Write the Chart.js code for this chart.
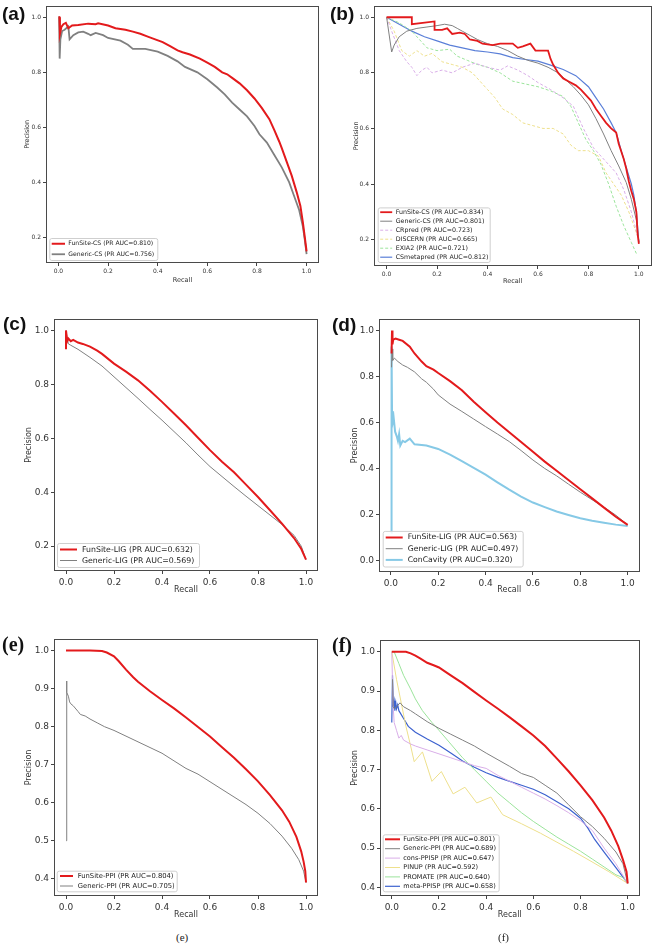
<!DOCTYPE html>
<html><head><meta charset="utf-8">
<script src="https://cdn.jsdelivr.net/npm/chart.js@4.4.0/dist/chart.umd.min.js"></script>
<style>
html,body{margin:0;padding:0;background:#fff;}
#page{position:relative;width:652px;height:948px;overflow:hidden;background:#fff;}
canvas{position:absolute;}
.lab{position:absolute;font-family:"Liberation Sans",Arial,sans-serif;font-weight:bold;font-size:19px;color:#111;line-height:1;z-index:2;}
.labs{position:absolute;font-family:"Liberation Serif","DejaVu Serif",serif;font-weight:bold;font-size:20px;color:#111;line-height:1;z-index:2;}
.cap{position:absolute;font-family:"Liberation Serif","DejaVu Serif",serif;font-size:11px;color:#222;line-height:1;z-index:2;}
</style></head>
<body><div id="page">
<canvas id="ca" width="330" height="300" style="left:0px;top:0px"></canvas>
<canvas id="cb" width="332" height="300" style="left:320px;top:0px"></canvas>
<canvas id="cc" width="330" height="320" style="left:0px;top:310px"></canvas>
<canvas id="cd" width="332" height="320" style="left:320px;top:310px"></canvas>
<canvas id="ce" width="330" height="290" style="left:0px;top:630px"></canvas>
<canvas id="cf" width="332" height="290" style="left:320px;top:630px"></canvas>
<div class="lab" style="left:2px;top:4px">(a)</div>
<div class="lab" style="left:330px;top:4px">(b)</div>
<div class="lab" style="left:3px;top:314px">(c)</div>
<div class="lab" style="left:332px;top:315px">(d)</div>
<div class="labs" style="left:2px;top:634px">(e)</div>
<div class="labs" style="left:332px;top:635px">(f)</div>
<div class="cap" style="left:176px;top:932px">(e)</div>
<div class="cap" style="left:498px;top:932px">(f)</div>
</div>
<script>
// ---------- tick labels ----------
const recallTicks = [0.0, 0.2, 0.4, 0.6, 0.8, 1.0];
const precTicksA = [0.2, 0.4, 0.6, 0.8, 1.0];
const precTicksD = [0.0, 0.2, 0.4, 0.6, 0.8, 1.0];
const precTicksE = [0.4, 0.5, 0.6, 0.7, 0.8, 0.9, 1.0];

// ---------- (a) ----------
const aFunR = [0, 0.004, 0.006, 0.012, 0.02, 0.03, 0.04, 0.055, 0.08, 0.12, 0.15, 0.16, 0.2, 0.23, 0.27, 0.3, 0.33, 0.36, 0.39, 0.42, 0.45, 0.48, 0.5, 0.53, 0.57, 0.6, 0.63, 0.66, 0.68, 0.7, 0.73, 0.76, 0.79, 0.82, 0.85, 0.87, 0.89, 0.9, 0.92, 0.94, 0.96, 0.975, 0.985, 0.993, 1.0];
const aFunP = [1.0, 1.0, 0.94, 0.965, 0.975, 0.98, 0.96, 0.97, 0.972, 0.977, 0.975, 0.978, 0.97, 0.96, 0.955, 0.948, 0.94, 0.93, 0.92, 0.91, 0.895, 0.88, 0.873, 0.865, 0.85, 0.835, 0.82, 0.8, 0.793, 0.78, 0.76, 0.735, 0.705, 0.67, 0.63, 0.59, 0.548, 0.525, 0.475, 0.425, 0.365, 0.315, 0.255, 0.2, 0.15];
const aGenR = [0, 0.003, 0.005, 0.008, 0.015, 0.025, 0.04, 0.045, 0.06, 0.08, 0.1, 0.12, 0.13, 0.15, 0.18, 0.2, 0.25, 0.28, 0.3, 0.35, 0.4, 0.44, 0.48, 0.51, 0.56, 0.6, 0.64, 0.67, 0.7, 0.73, 0.76, 0.79, 0.81, 0.84, 0.87, 0.9, 0.93, 0.95, 0.97, 0.985, 0.993, 1.0];
const aGenP = [1.0, 1.0, 0.85, 0.92, 0.95, 0.955, 0.967, 0.92, 0.935, 0.945, 0.948, 0.94, 0.935, 0.943, 0.935, 0.925, 0.915, 0.9, 0.885, 0.885, 0.875, 0.86, 0.84, 0.82, 0.8, 0.775, 0.745, 0.72, 0.69, 0.665, 0.64, 0.605, 0.575, 0.545, 0.5, 0.455, 0.4, 0.35, 0.3, 0.24, 0.19, 0.14];

// ---------- (b) ----------
const bFunR = [0, 0.1, 0.1, 0.19, 0.19, 0.22, 0.24, 0.26, 0.29, 0.31, 0.33, 0.36, 0.38, 0.42, 0.45, 0.5, 0.52, 0.54, 0.57, 0.59, 0.64, 0.65, 0.66, 0.68, 0.7, 0.72, 0.75, 0.77, 0.79, 0.81, 0.83, 0.85, 0.87, 0.89, 0.91, 0.92, 0.94, 0.95, 0.96, 0.97, 0.98, 0.99, 0.995, 1.0];
const bFunP = [1.0, 1.0, 0.975, 0.985, 0.955, 0.955, 0.96, 0.94, 0.945, 0.94, 0.92, 0.915, 0.905, 0.9, 0.905, 0.905, 0.89, 0.895, 0.905, 0.88, 0.88, 0.85, 0.83, 0.8, 0.78, 0.77, 0.755, 0.74, 0.72, 0.7, 0.67, 0.645, 0.62, 0.6, 0.585, 0.545, 0.49, 0.455, 0.41, 0.375, 0.345, 0.3, 0.22, 0.185];
const bGenR = [0, 0.02, 0.03, 0.05, 0.08, 0.12, 0.16, 0.2, 0.23, 0.26, 0.28, 0.3, 0.33, 0.36, 0.4, 0.44, 0.48, 0.52, 0.56, 0.6, 0.64, 0.68, 0.71, 0.74, 0.77, 0.8, 0.83, 0.86, 0.89, 0.92, 0.95, 0.97, 0.99, 1.0];
const bGenP = [1.0, 0.875, 0.9, 0.93, 0.95, 0.96, 0.965, 0.97, 0.975, 0.97, 0.96, 0.95, 0.935, 0.92, 0.905, 0.895, 0.88, 0.86, 0.845, 0.835, 0.82, 0.8, 0.775, 0.75, 0.72, 0.685, 0.635, 0.58, 0.52, 0.465, 0.405, 0.345, 0.27, 0.19];
const bCrpR = [0, 0.02, 0.05, 0.08, 0.1, 0.12, 0.14, 0.16, 0.18, 0.22, 0.26, 0.3, 0.35, 0.4, 0.45, 0.48, 0.52, 0.56, 0.6, 0.65, 0.7, 0.74, 0.78, 0.82, 0.85, 0.88, 0.91, 0.94, 0.97, 0.99, 1.0];
const bCrpP = [1.0, 0.95, 0.88, 0.84, 0.82, 0.79, 0.81, 0.82, 0.8, 0.81, 0.8, 0.82, 0.835, 0.82, 0.81, 0.825, 0.81, 0.79, 0.765, 0.74, 0.71, 0.68, 0.6, 0.53, 0.5, 0.47, 0.44, 0.38, 0.3, 0.23, 0.19];
const bDisR = [0, 0.03, 0.06, 0.09, 0.12, 0.15, 0.18, 0.22, 0.26, 0.3, 0.34, 0.37, 0.4, 0.43, 0.46, 0.5, 0.54, 0.58, 0.62, 0.66, 0.7, 0.73, 0.76, 0.8, 0.84, 0.87, 0.9, 0.93, 0.96, 0.98, 1.0];
const bDisP = [1.0, 0.95, 0.88, 0.86, 0.88, 0.86, 0.87, 0.84, 0.83, 0.82, 0.8, 0.77, 0.74, 0.71, 0.67, 0.65, 0.62, 0.61, 0.6, 0.6, 0.58, 0.54, 0.52, 0.52, 0.5, 0.44, 0.4, 0.36, 0.3, 0.25, 0.2];
const bExiR = [0, 0.05, 0.1, 0.13, 0.16, 0.2, 0.25, 0.28, 0.32, 0.36, 0.4, 0.45, 0.5, 0.55, 0.6, 0.65, 0.7, 0.73, 0.76, 0.79, 0.82, 0.85, 0.88, 0.91, 0.94, 0.97, 0.99];
const bExiP = [1.0, 0.98, 0.95, 0.92, 0.89, 0.88, 0.885, 0.86, 0.845, 0.83, 0.82, 0.8, 0.77, 0.76, 0.75, 0.735, 0.715, 0.68, 0.62, 0.56, 0.52, 0.47, 0.4, 0.32, 0.25, 0.19, 0.15];
const bCsmR = [0, 0.05, 0.1, 0.15, 0.2, 0.25, 0.3, 0.35, 0.4, 0.45, 0.5, 0.55, 0.6, 0.65, 0.7, 0.75, 0.8, 0.83, 0.86, 0.89, 0.91, 0.93, 0.95, 0.97, 0.98, 0.99, 1.0];
const bCsmP = [1.0, 0.975, 0.95, 0.93, 0.915, 0.9, 0.89, 0.88, 0.875, 0.868, 0.855, 0.848, 0.842, 0.828, 0.812, 0.79, 0.75, 0.71, 0.67, 0.62, 0.585, 0.52, 0.46, 0.4, 0.36, 0.3, 0.19];

// ---------- (c) ----------
const cFunR = [0, 0, 0.005, 0.01, 0.02, 0.03, 0.05, 0.07, 0.1, 0.13, 0.15, 0.2, 0.25, 0.3, 0.35, 0.4, 0.45, 0.5, 0.55, 0.6, 0.65, 0.7, 0.75, 0.8, 0.85, 0.9, 0.95, 0.98, 1.0];
const cFunP = [0.93, 1.0, 0.96, 0.97, 0.96, 0.965, 0.955, 0.95, 0.94, 0.925, 0.913, 0.877, 0.847, 0.815, 0.776, 0.735, 0.692, 0.648, 0.602, 0.556, 0.513, 0.474, 0.428, 0.382, 0.333, 0.283, 0.23, 0.19, 0.15];
const cGenR = [0, 0.005, 0.01, 0.02, 0.05, 0.1, 0.15, 0.2, 0.25, 0.3, 0.35, 0.4, 0.45, 0.5, 0.55, 0.6, 0.65, 0.7, 0.75, 0.8, 0.85, 0.9, 0.95, 0.98, 1.0];
const cGenP = [1.0, 0.97, 0.95, 0.945, 0.93, 0.9, 0.868, 0.828, 0.788, 0.748, 0.707, 0.667, 0.625, 0.583, 0.538, 0.495, 0.458, 0.421, 0.385, 0.35, 0.315, 0.28, 0.24, 0.2, 0.15];

// ---------- (d) ----------
const dFunR = [0.003, 0.005, 0.007, 0.01, 0.02, 0.035, 0.05, 0.08, 0.1, 0.13, 0.15, 0.18, 0.2, 0.25, 0.3, 0.35, 0.4, 0.45, 0.5, 0.55, 0.6, 0.65, 0.7, 0.75, 0.8, 0.85, 0.9, 0.95, 1.0];
const dFunP = [0.9, 1.0, 0.94, 0.96, 0.965, 0.96, 0.955, 0.93, 0.9, 0.865, 0.845, 0.83, 0.815, 0.78, 0.74, 0.69, 0.645, 0.6, 0.558, 0.515, 0.473, 0.43, 0.39, 0.35, 0.31, 0.27, 0.23, 0.19, 0.155];
const dGenR = [0.003, 0.005, 0.008, 0.015, 0.03, 0.05, 0.07, 0.1, 0.13, 0.15, 0.18, 0.2, 0.25, 0.3, 0.35, 0.4, 0.45, 0.5, 0.55, 0.6, 0.65, 0.7, 0.75, 0.8, 0.85, 0.9, 0.95, 1.0];
const dGenP = [0.84, 0.92, 0.87, 0.88, 0.865, 0.85, 0.84, 0.82, 0.79, 0.775, 0.745, 0.72, 0.68, 0.648, 0.615, 0.582, 0.55, 0.517, 0.478, 0.437, 0.4, 0.368, 0.332, 0.297, 0.264, 0.232, 0.197, 0.155];
const dConR = [0.002, 0.003, 0.005, 0.008, 0.012, 0.018, 0.025, 0.03, 0.035, 0.04, 0.05, 0.06, 0.08, 0.1, 0.15, 0.2, 0.25, 0.3, 0.35, 0.4, 0.45, 0.5, 0.55, 0.6, 0.65, 0.7, 0.75, 0.8, 0.85, 0.9, 0.95, 1.0];
const dConP = [0.12, 0.93, 0.65, 0.6, 0.62, 0.56, 0.54, 0.52, 0.55, 0.5, 0.52, 0.515, 0.53, 0.505, 0.5, 0.485, 0.46, 0.432, 0.403, 0.373, 0.34, 0.308, 0.278, 0.252, 0.232, 0.213, 0.198, 0.184, 0.173, 0.164, 0.156, 0.15];

// ---------- (e) ----------
const eFunR = [0, 0.05, 0.1, 0.15, 0.17, 0.2, 0.22, 0.25, 0.28, 0.3, 0.35, 0.4, 0.45, 0.5, 0.55, 0.6, 0.65, 0.7, 0.75, 0.8, 0.85, 0.9, 0.93, 0.96, 0.98, 0.99, 0.997, 1.0];
const eFunP = [1.0, 1.0, 1.0, 0.999, 0.995, 0.985, 0.972, 0.95, 0.93, 0.918, 0.893, 0.87, 0.848, 0.824, 0.799, 0.774, 0.746, 0.718, 0.688, 0.656, 0.62, 0.58, 0.55, 0.51, 0.472, 0.445, 0.42, 0.39];
const eGenR = [0, 0.002, 0.004, 0.01, 0.015, 0.02, 0.03, 0.05, 0.06, 0.08, 0.1, 0.13, 0.16, 0.2, 0.25, 0.3, 0.35, 0.4, 0.45, 0.5, 0.55, 0.6, 0.65, 0.7, 0.75, 0.8, 0.85, 0.9, 0.94, 0.97, 0.99, 1.0];
const eGenP = [0.5, 0.92, 0.89, 0.88, 0.865, 0.86, 0.855, 0.84, 0.832, 0.828, 0.82, 0.81, 0.8, 0.79, 0.775, 0.76, 0.745, 0.73, 0.71, 0.69, 0.675, 0.655, 0.635, 0.615, 0.595, 0.572, 0.545, 0.512, 0.48, 0.45, 0.42, 0.39];

// ---------- (f) ----------
const fFunR = [0, 0.06, 0.08, 0.1, 0.12, 0.15, 0.18, 0.2, 0.22, 0.25, 0.3, 0.35, 0.4, 0.45, 0.5, 0.55, 0.6, 0.65, 0.7, 0.75, 0.8, 0.85, 0.9, 0.93, 0.96, 0.98, 0.995, 1.0];
const fFunP = [1.0, 1.0, 0.996, 0.99, 0.983, 0.972, 0.965, 0.96, 0.952, 0.94, 0.92, 0.898, 0.876, 0.855, 0.833, 0.81, 0.787, 0.76, 0.728, 0.695, 0.66, 0.622, 0.578, 0.545, 0.505, 0.47, 0.44, 0.41];
const fGenR = [0.003, 0.006, 0.01, 0.02, 0.035, 0.05, 0.08, 0.1, 0.15, 0.2, 0.25, 0.3, 0.35, 0.4, 0.45, 0.5, 0.55, 0.6, 0.65, 0.7, 0.75, 0.8, 0.85, 0.9, 0.95, 0.98, 1.0];
const fGenP = [0.93, 0.86, 0.855, 0.86, 0.87, 0.86, 0.85, 0.842, 0.822, 0.805, 0.79, 0.775, 0.76, 0.742, 0.725, 0.708, 0.69, 0.68, 0.66, 0.64, 0.61, 0.58, 0.555, 0.525, 0.49, 0.46, 0.41];
const fConR = [0, 0.005, 0.01, 0.02, 0.03, 0.04, 0.05, 0.08, 0.1, 0.15, 0.2, 0.25, 0.3, 0.35, 0.4, 0.45, 0.5, 0.55, 0.6, 0.65, 0.7, 0.75, 0.8, 0.85, 0.9, 0.95, 1.0];
const fConP = [1.0, 0.87, 0.82, 0.8, 0.78, 0.787, 0.775, 0.765, 0.76, 0.75, 0.74, 0.73, 0.72, 0.71, 0.703, 0.685, 0.67, 0.655, 0.64, 0.625, 0.608, 0.59, 0.57, 0.545, 0.5, 0.46, 0.41];
const fPinR = [0, 0.02, 0.04, 0.06, 0.08, 0.095, 0.13, 0.17, 0.21, 0.26, 0.31, 0.36, 0.42, 0.47, 0.55, 0.63, 0.7, 0.77, 0.84, 0.92, 1.0];
const fPinP = [1.0, 0.93, 0.87, 0.81, 0.76, 0.72, 0.745, 0.67, 0.695, 0.638, 0.655, 0.615, 0.63, 0.585, 0.562, 0.538, 0.515, 0.492, 0.468, 0.44, 0.41];
const fProR = [0, 0.01, 0.03, 0.05, 0.08, 0.1, 0.13, 0.17, 0.2, 0.25, 0.3, 0.35, 0.4, 0.45, 0.5, 0.55, 0.6, 0.65, 0.7, 0.75, 0.8, 0.85, 0.9, 0.95, 0.98, 1.0];
const fProP = [1.0, 1.0, 0.97, 0.94, 0.905, 0.88, 0.85, 0.82, 0.8, 0.765, 0.73, 0.7, 0.67, 0.64, 0.615, 0.59, 0.568, 0.548, 0.528, 0.51, 0.492, 0.472, 0.452, 0.432, 0.425, 0.41];
const fMetR = [0, 0.003, 0.006, 0.01, 0.013, 0.017, 0.02, 0.025, 0.03, 0.05, 0.07, 0.1, 0.15, 0.2, 0.25, 0.3, 0.35, 0.4, 0.45, 0.5, 0.55, 0.6, 0.65, 0.7, 0.75, 0.8, 0.83, 0.86, 0.9, 0.95, 1.0];
const fMetP = [0.82, 0.94, 0.86, 0.875, 0.85, 0.87, 0.855, 0.865, 0.85, 0.83, 0.81, 0.795, 0.778, 0.762, 0.742, 0.722, 0.706, 0.692, 0.68, 0.67, 0.66, 0.65, 0.636, 0.618, 0.6, 0.576, 0.552, 0.522, 0.49, 0.45, 0.41];

// ---------- colours ----------
const RED = '#e31a1c', GRAY = '#808080', BLUE_B = '#5a7fd8', BLUE_F = '#3d62cf',
      LAV = '#d9aee8', YEL = '#eee08c', GRN = '#9be49b', CYAN = '#86c9e6';

function pts(xs, ys) { return xs.map((x, i) => ({ x: x, y: ys[i] })); }

const framePlugin = {
  id: 'frame',
  afterDatasetsDraw(chart) {
    const a = chart.chartArea, c = chart.ctx;
    c.save();
    c.strokeStyle = '#4a4a4a'; c.lineWidth = 1;
    const l = Math.round(a.left) + 0.5, t = Math.round(a.top) + 0.5;
    const r = Math.round(a.right) - 0.5, b = Math.round(a.bottom) - 0.5;
    c.strokeRect(l, t, r - l, b - t);
    c.restore();
  }
};

const boxLegend = {
  id: 'boxLegend',
  afterDraw(chart, args, o) {
    if (!o || !o.w) return;
    const a = chart.chartArea, c = chart.ctx;
    const ds = chart.data.datasets;
    const h = ds.length * o.rowH + 2 * o.padY;
    const x0 = a.left + o.dx, y1 = a.bottom - o.dy, y0 = y1 - h;
    c.save();
    c.fillStyle = 'rgba(255,255,255,0.85)';
    c.strokeStyle = '#cfcfcf'; c.lineWidth = 1;
    c.beginPath();
    if (c.roundRect) c.roundRect(x0 + 0.5, y0 + 0.5, o.w, h, 2); else c.rect(x0 + 0.5, y0 + 0.5, o.w, h);
    c.fill(); c.stroke();
    c.font = o.font + 'px "DejaVu Sans", sans-serif';
    c.textBaseline = 'middle';
    c.fillStyle = '#222';
    ds.forEach((d, i) => {
      const yy = y0 + o.padY + o.rowH * (i + 0.5);
      c.strokeStyle = d.borderColor; c.lineWidth = d.borderWidth;
      c.setLineDash(d.borderDash || []);
      c.beginPath(); c.moveTo(x0 + o.lineX, yy); c.lineTo(x0 + o.lineX + o.lineLen, yy); c.stroke();
      c.setLineDash([]);
      c.fillText(d.label, x0 + o.textX, yy);
    });
    c.restore();
  }
};

function makePanel(id, s) {
  const fontTick = { family: 'DejaVu Sans', size: s.tickFont };
  const fontLab = { family: 'DejaVu Sans', size: s.labFont };
  new Chart(document.getElementById(id), {
    type: 'line',
    data: {
      datasets: s.series.map(q => ({
        label: q.label, data: pts(q.r, q.p), borderColor: q.color, borderWidth: q.w,
        borderDash: q.dash || [], pointRadius: 0, fill: false, tension: 0, spanGaps: true
      }))
    },
    options: {
      responsive: false, animation: false, devicePixelRatio: 1,
      layout: { padding: { top: s.padTop, right: s.padRight, left: 0, bottom: 0 } },
      plugins: { legend: { display: false }, tooltip: { enabled: false }, boxLegend: s.legend },
      scales: {
        x: {
          type: 'linear', min: -0.05, max: 1.05,
          afterBuildTicks: sc => { sc.ticks = recallTicks.map(v => ({ value: v })); },
          afterFit: sc => { sc.height = s.xH; },
          ticks: { font: fontTick, color: '#333', padding: s.xTickPad, maxRotation: 0, callback: v => v.toFixed(1) },
          grid: { drawOnChartArea: false, drawTicks: true, tickLength: 3, color: '#444' },
          border: { display: false },
          title: { display: true, text: 'Recall', font: fontLab, color: '#333', padding: { top: 0, bottom: s.xTitlePad } }
        },
        y: {
          type: 'linear', min: s.yMin, max: s.yMax,
          afterBuildTicks: sc => { sc.ticks = s.yTicks.map(v => ({ value: v })); },
          afterFit: sc => { sc.width = s.yW; },
          ticks: { font: fontTick, color: '#333', padding: 2, callback: v => v.toFixed(1) },
          grid: { drawOnChartArea: false, drawTicks: true, tickLength: 3, color: '#444' },
          border: { display: false },
          title: { display: true, text: 'Precision', font: fontLab, color: '#333', padding: { top: s.yTitlePad, bottom: 0 } }
        }
      }
    },
    plugins: [framePlugin, boxLegend]
  });
}

makePanel('ca', {
  yW: 46, padTop: 5, padRight: 11, xH: 37, yMin: 0.1075, yMax: 1.0425, yTicks: precTicksA,
  tickFont: 6, labFont: 6.5, xTickPad: 2, xTitlePad: 16, yTitlePad: 23,
  legend: { dx: 3.3, dy: 3, w: 108, rowH: 10.5, padY: 0.5, lineX: 2.4, lineLen: 13.3, textX: 19, font: 6.1 },
  series: [
    { label: 'FunSite-CS (PR AUC=0.810)', r: aFunR, p: aFunP, color: RED, w: 2 },
    { label: 'Generic-CS (PR AUC=0.756)', r: aGenR, p: aGenP, color: GRAY, w: 1.8 }
  ]
});
makePanel('cb', {
  yW: 54, padTop: 5, padRight: 0.5, xH: 34, yMin: 0.105, yMax: 1.042, yTicks: precTicksA,
  tickFont: 6, labFont: 6.5, xTickPad: 2, xTitlePad: 14.4, yTitlePad: 32.8,
  legend: { dx: 3.7, dy: 4, w: 112, rowH: 9, padY: 0.3, lineX: 2.5, lineLen: 12, textX: 18, font: 6.3 },
  series: [
    { label: 'FunSite-CS (PR AUC=0.834)', r: bFunR, p: bFunP, color: RED, w: 1.8 },
    { label: 'Generic-CS (PR AUC=0.801)', r: bGenR, p: bGenP, color: GRAY, w: 1 },
    { label: 'CRpred (PR AUC=0.723)', r: bCrpR, p: bCrpP, color: LAV, w: 1, dash: [3, 2] },
    { label: 'DISCERN (PR AUC=0.665)', r: bDisR, p: bDisP, color: YEL, w: 1, dash: [3, 2] },
    { label: 'EXIA2 (PR AUC=0.721)', r: bExiR, p: bExiP, color: GRN, w: 1, dash: [3, 2] },
    { label: 'CSmetapred (PR AUC=0.812)', r: bCsmR, p: bCsmP, color: BLUE_B, w: 1.2 }
  ]
});
makePanel('cc', {
  yW: 54, padTop: 9, padRight: 12, xH: 59, yMin: 0.1075, yMax: 1.0425, yTicks: precTicksA,
  tickFont: 9, labFont: 8, xTickPad: 3, xTitlePad: 35, yTitlePad: 24,
  legend: { dx: 3, dy: 4, w: 142, rowH: 11, padY: 1, lineX: 3, lineLen: 17, textX: 25, font: 7.8 },
  series: [
    { label: 'FunSite-LIG (PR AUC=0.632)', r: cFunR, p: cFunP, color: RED, w: 2 },
    { label: 'Generic-LIG (PR AUC=0.569)', r: cGenR, p: cGenP, color: GRAY, w: 1 }
  ]
});
makePanel('cd', {
  yW: 59, padTop: 9, padRight: 12.5, xH: 58, yMin: -0.05, yMax: 1.05, yTicks: precTicksD,
  tickFont: 9, labFont: 8, xTickPad: 3, xTitlePad: 35, yTitlePad: 30,
  legend: { dx: 3.7, dy: 5.5, w: 140, rowH: 11.2, padY: 1, lineX: 3, lineLen: 17, textX: 25, font: 7.7 },
  series: [
    { label: 'FunSite-LIG (PR AUC=0.563)', r: dFunR, p: dFunP, color: RED, w: 2 },
    { label: 'Generic-LIG (PR AUC=0.497)', r: dGenR, p: dGenP, color: GRAY, w: 1 },
    { label: 'ConCavity (PR AUC=0.320)', r: dConR, p: dConP, color: CYAN, w: 2 }
  ]
});
makePanel('ce', {
  yW: 54, padTop: 9, padRight: 12, xH: 24, yMin: 0.3545, yMax: 1.0305, yTicks: precTicksE,
  tickFont: 9, labFont: 8, xTickPad: 3, xTitlePad: 0, yTitlePad: 24,
  legend: { dx: 2.7, dy: 4.7, w: 120, rowH: 10, padY: 0.3, lineX: 3.3, lineLen: 13, textX: 21, font: 6.8 },
  series: [
    { label: 'FunSite-PPI (PR AUC=0.804)', r: eFunR, p: eFunP, color: RED, w: 2 },
    { label: 'Generic-PPI (PR AUC=0.705)', r: eGenR, p: eGenP, color: GRAY, w: 1 }
  ]
});
makePanel('cf', {
  yW: 60, padTop: 10, padRight: 12.5, xH: 24, yMin: 0.378, yMax: 1.03, yTicks: precTicksE,
  tickFont: 9, labFont: 8, xTickPad: 3, xTitlePad: 0, yTitlePad: 30,
  legend: { dx: 2.7, dy: 4.7, w: 116, rowH: 9.4, padY: 0.3, lineX: 2.3, lineLen: 15, textX: 20.6, font: 6.5 },
  series: [
    { label: 'FunSite-PPI (PR AUC=0.801)', r: fFunR, p: fFunP, color: RED, w: 2 },
    { label: 'Generic-PPI (PR AUC=0.689)', r: fGenR, p: fGenP, color: GRAY, w: 1 },
    { label: 'cons-PPISP (PR AUC=0.647)', r: fConR, p: fConP, color: LAV, w: 1 },
    { label: 'PINUP (PR AUC=0.592)', r: fPinR, p: fPinP, color: YEL, w: 1 },
    { label: 'PROMATE (PR AUC=0.640)', r: fProR, p: fProP, color: GRN, w: 1 },
    { label: 'meta-PPISP (PR AUC=0.658)', r: fMetR, p: fMetP, color: BLUE_F, w: 1.2 }
  ]
});
</script>
</body></html>
